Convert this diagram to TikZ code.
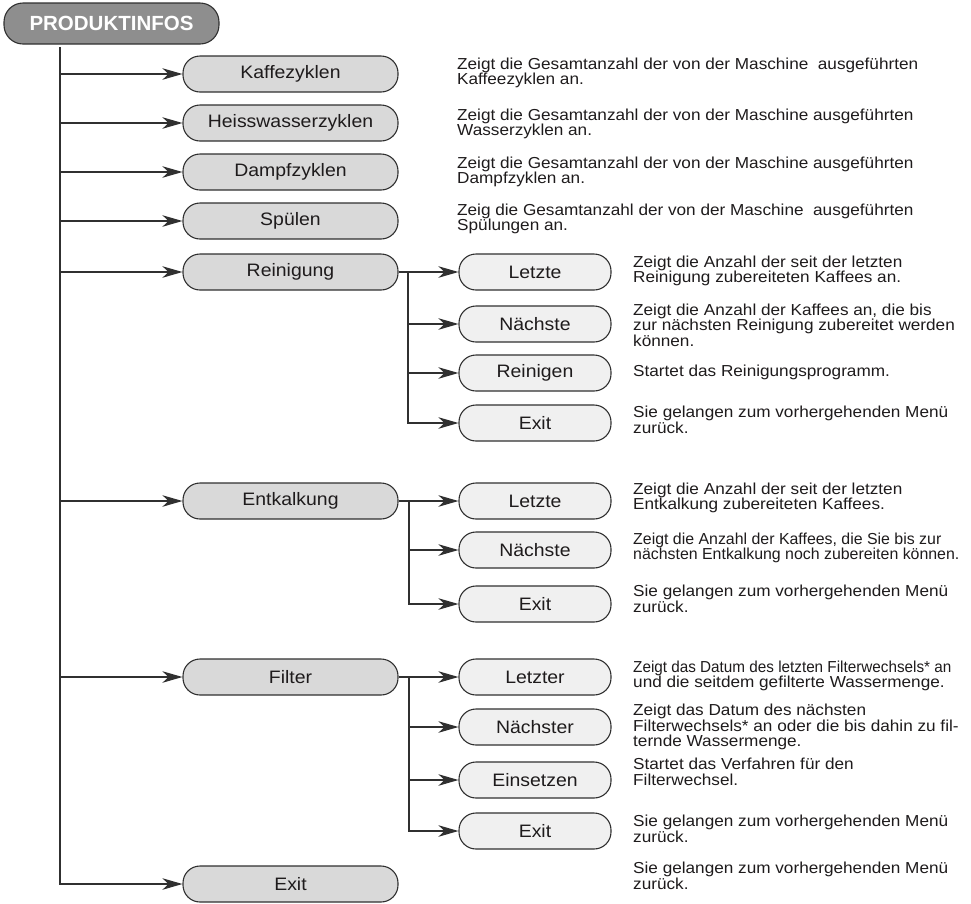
\documentclass[tikz,border=0pt]{standalone}
\usepackage{fontspec}
\setmainfont{Liberation Sans}[FakeStretch=1.08]
\newfontfamily\plainsans{Liberation Sans}
\usetikzlibrary{arrows.meta}
\definecolor{lc}{HTML}{303030}
\definecolor{tc}{HTML}{1E1B1C}
\definecolor{hdfill}{HTML}{8E8E8E}
\definecolor{lone}{HTML}{D9D9D9}
\definecolor{ltwo}{HTML}{F0F0F0}
\begin{document}
\begin{tikzpicture}[x=1pt,y=-1pt,
  conn/.style={draw=lc, line width=1.3pt},
  arr/.style={conn, -{Stealth[length=20pt,width=11.5pt,inset=6pt]}},
  header/.style={draw=lc, line width=1.1pt, fill=hdfill, rounded corners=19pt,
    minimum width=215pt, minimum height=41pt, inner sep=0pt, text=white,
    font=\plainsans\bfseries\fontsize{20.5}{20.5}\selectfont},
  mainbox/.style={draw=lc, line width=1.1pt, fill=lone, rounded corners=17pt,
    minimum width=215pt, minimum height=36pt, inner sep=0pt, text=tc,
    font=\fontsize{18}{18}\selectfont},
  subbox/.style={mainbox, fill=ltwo, minimum width=152pt},
  desc/.style={anchor=west, align=left, inner sep=0pt, text=tc,
    font=\fontsize{15.9}{15.5}\selectfont}]
\useasboundingbox (0,0) rectangle (971,903);

% header and main boxes
\node[header] (hd) at (111.5,23.5) {PRODUKTINFOS};
\node[mainbox] (kz) at (290.5,74) {Kaffezyklen};
\node[mainbox] (hw) at (290.5,123) {Heisswasserzyklen};
\node[mainbox] (dz) at (290.5,172) {Dampfzyklen};
\node[mainbox] (sp) at (290.5,221) {Spülen};
\node[mainbox] (rg) at (290.5,272) {Reinigung};
\node[mainbox] (ek) at (290.5,501) {Entkalkung};
\node[mainbox] (fi) at (290.5,677) {Filter};
\node[mainbox] (ex) at (290.5,884) {Exit};

% sub boxes
\node[subbox] (rl) at (535,272) {Letzte};
\node[subbox] (rn) at (535,324) {Nächste};
\node[subbox] (rr) at (535,373) {Reinigen};
\node[subbox] (rx) at (535,423) {Exit};
\node[subbox] (el) at (535,501) {Letzte};
\node[subbox] (en) at (535,550) {Nächste};
\node[subbox] (ex2) at (535,604) {Exit};
\node[subbox] (fl) at (535,677) {Letzter};
\node[subbox] (fn) at (535,727) {Nächster};
\node[subbox] (fe) at (535,780) {Einsetzen};
\node[subbox] (fx) at (535,831) {Exit};

% trunk
\coordinate (top) at (60,47);
\draw[arr] (top) |- (ex.west);
\foreach \n in {kz,hw,dz,sp,rg,ek,fi}{
  \draw[arr] (\n.west -| top) -- (\n.west);
}

% Reinigung branch
\coordinate (rb) at (408,272);
\draw[arr] (rg.east) -- (rl.west);
\draw[arr] (rb) |- (rx.west);
\draw[arr] (rn.west -| rb) -- (rn.west);
\draw[arr] (rr.west -| rb) -- (rr.west);

% Entkalkung branch
\coordinate (eb) at (409,501);
\draw[arr] (ek.east) -- (el.west);
\draw[arr] (eb) |- (ex2.west);
\draw[arr] (en.west -| eb) -- (en.west);

% Filter branch
\coordinate (fb) at (409,677);
\draw[arr] (fi.east) -- (fl.west);
\draw[arr] (fb) |- (fx.west);
\draw[arr] (fn.west -| fb) -- (fn.west);
\draw[arr] (fe.west -| fb) -- (fe.west);

% descriptions level 1
\node[desc] (dkz) at (457,73) {Zeigt die Gesamtanzahl der von der Maschine\ \ ausgeführten\\Kaffeezyklen an.};
\node[desc] (dhw) at (457,124) {Zeigt die Gesamtanzahl der von der Maschine ausgeführten\\Wasserzyklen an.};
\node[desc] (ddz) at (457,172) {Zeigt die Gesamtanzahl der von der Maschine ausgeführten\\Dampfzyklen an.};
\node[desc] (dsp) at (457,219) {Zeig die Gesamtanzahl der von der Maschine\ \ ausgeführten\\Spülungen an.};

% descriptions level 2
\node[desc] (drl) at (633,271) {Zeigt die Anzahl der seit der letzten\\Reinigung zubereiteten Kaffees an.};
\node[desc] (drn) at (633,325) {Zeigt die Anzahl der Kaffees an, die bis\\zur nächsten Reinigung zubereitet werden\\können.};
\node[desc] (drr) at (633,372) {Startet das Reinigungsprogramm.};
\node[desc] (drx) at (633,420) {Sie gelangen zum vorhergehenden Menü\\zurück.};
\node[desc] (del) at (633,498) {Zeigt die Anzahl der seit der letzten\\Entkalkung zubereiteten Kaffees.};
\node[desc] (den) at (633,548) {{\plainsans Zeigt die Anzahl der Kaffees, die Sie bis zur}\\{\plainsans nächsten Entkalkung noch zubereiten können.}};
\node[desc] (dex) at (633,599) {Sie gelangen zum vorhergehenden Menü\\zurück.};
\node[desc] (dfl) at (633,676) {\scalebox{0.96}[1]{\plainsans Zeigt das Datum des letzten Filterwechsels* an}\\und die seitdem gefilterte Wassermenge.};
\node[desc] (dfn) at (633,727) {Zeigt das Datum des nächsten\\Filterwechsels* an oder die bis dahin zu fil-\\ternde Wassermenge.};
\node[desc] (dfe) at (633,772) {Startet das Verfahren für den\\Filterwechsel.};
\node[desc] (dfx) at (633,829) {Sie gelangen zum vorhergehenden Menü\\zurück.};
\node[desc] (dex1) at (633,876) {Sie gelangen zum vorhergehenden Menü\\zurück.};
\end{tikzpicture}
\end{document}
